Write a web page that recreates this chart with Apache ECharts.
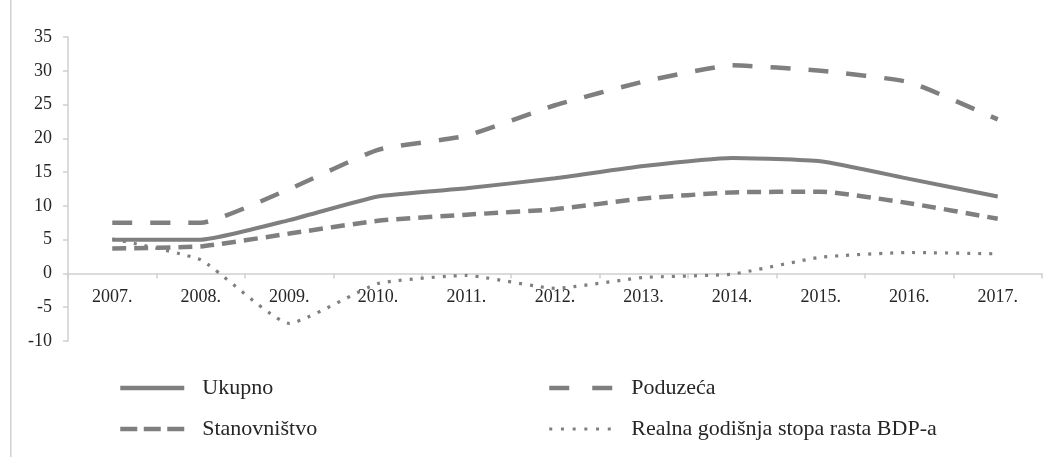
<!DOCTYPE html>
<html>
<head>
<meta charset="utf-8">
<script src="https://cdn.jsdelivr.net/npm/echarts@6/dist/echarts.min.js"></script>
<style>
html,body{margin:0;padding:0;background:#fff;}
#chart{width:1054px;height:457px;}
</style>
</head>
<body>
<div id="chart"></div>
<script>
var years = ['2007.','2008.','2009.','2010.','2011.','2012.','2013.','2014.','2015.','2016.','2017.'];
var ukupno = [5.0, 5.0, 7.9, 11.4, 12.6, 14.1, 15.9, 17.1, 16.6, 14.0, 11.4];
var poduzeca = [7.5, 7.5, 12.5, 18.3, 20.4, 24.9, 28.4, 30.8, 30.0, 28.3, 22.8];
var stanovnistvo = [3.7, 4.0, 5.9, 7.8, 8.7, 9.5, 11.1, 12.0, 12.1, 10.4, 8.1];
var bdp = [5.1, 2.0, -7.4, -1.5, -0.3, -2.2, -0.6, -0.1, 2.4, 3.1, 2.9];
var yTicks = {min: -10, max: 35, step: 5};

var grey = '#7f7f7f';
var serif = '"Liberation Serif", "DejaVu Serif", serif';
var ink = '#262626';

function line(name, data, width, dash) {
	return {
		name: name,
		type: 'line',
		data: data,
		smooth: 0.15,
		symbol: 'none',
		lineStyle: {color: grey, width: width, type: dash, cap: 'butt'},
		itemStyle: {color: grey}
	};
}

function legend(left, items) {
	return {
		orient: 'vertical',
		left: left, top: 377,
		padding: 0,
		itemWidth: 64, itemHeight: 14, itemGap: 19,
		data: items,
		itemStyle: {opacity: 0},
		textStyle: {fontFamily: serif, fontSize: 22, color: ink, padding: [0, 0, 0, 13]}
	};
}

function key(name, width, dash) {
	return {name: name, lineStyle: {color: grey, width: width, type: dash, cap: 'butt'}};
}

var chart = echarts.init(document.getElementById('chart'));
chart.setOption({
	animation: false,
	grid: {left: 68, right: 12, top: 37, bottom: 116},
	graphic: [{
		type: 'rect',
		shape: {x: 10, y: 0, width: 1.5, height: 457},
		style: {fill: '#d0d0d0'}
	}],
	legend: [
		legend(118, [key('Ukupno', 4.5, 'solid'), key('Stanovništvo', 4.5, [17, 6.5])]),
		legend(547, [key('Poduzeća', 4.5, [20, 23]), key('Realna godišnja stopa rasta BDP-a', 3, [3, 8.7])])
	],
	xAxis: {
		type: 'category',
		data: years,
		axisLine: {onZero: true, lineStyle: {color: '#cfcfcf', width: 1.5}},
		axisTick: {show: true, length: 5, lineStyle: {color: '#cfcfcf', width: 1.5}},
		// labels sit just under the zero line, not at the grid bottom
		axisLabel: {fontFamily: serif, fontSize: 18, color: ink, margin: -53}
	},
	yAxis: {
		type: 'value',
		min: yTicks.min, max: yTicks.max, interval: yTicks.step,
		axisLine: {show: true, lineStyle: {color: '#cfcfcf', width: 1.5}},
		axisTick: {show: true, length: 5, lineStyle: {color: '#cfcfcf', width: 1.5}},
		splitLine: {show: false},
		axisLabel: {fontFamily: serif, fontSize: 18, color: ink, margin: 16}
	},
	series: [
		line('Ukupno', ukupno, 4, 'solid'),
		line('Poduzeća', poduzeca, 4.5, [20, 18]),
		line('Stanovništvo', stanovnistvo, 4.5, [14, 8]),
		line('Realna godišnja stopa rasta BDP-a', bdp, 3.2, [3, 8])
	]
});
</script>
</body>
</html>
